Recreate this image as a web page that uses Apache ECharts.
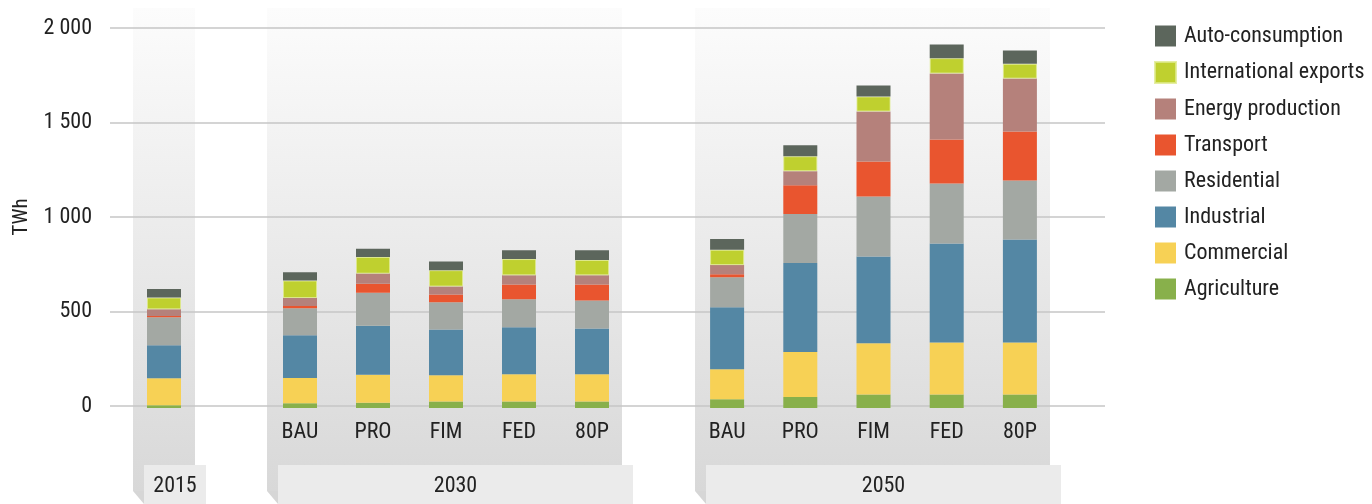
<!DOCTYPE html>
<html>
<head>
<meta charset="utf-8">
<script src="https://cdn.jsdelivr.net/npm/echarts@6/dist/echarts.min.js"></script>
<style>
  body { margin: 0; background: #fff; }
  #chart { width: 1372px; height: 504px; }
</style>
</head>
<body>
<div id="chart"></div>
<script>
  // data: 2015, 2030 (5 scenarios), 2050 (5 scenarios)
  const groups = ['2015', '2030', '2050'];
  const scenarios = ['BAU', 'PRO', 'FIM', 'FED', '80P'];
  const sectors = ['Agriculture', 'Commercial', 'Industrial', 'Residential', 'Transport',
    'Energy production', 'International exports', 'Auto-consumption'];
  const colors = ['#88b04b', '#f7d155', '#5487a4', '#a3a8a3', '#e9552f', '#b5817b', '#bfd02f', '#5c665c'];

  const agriculture     = [14, 25, 28, 35, 35, 35, 46, 58, 72, 72, 72];
  const commercial      = [143, 134, 148, 138, 143, 143, 159, 238, 270, 275, 275];
  const industrial      = [175, 226, 259, 243, 249, 243, 328, 471, 460, 524, 545];
  const residential     = [148, 143, 175, 143, 148, 148, 159, 259, 317, 317, 312];
  const transport       = [7, 12, 48, 42, 79, 85, 16, 153, 185, 233, 259];
  const energy          = [35, 42, 53, 42, 48, 48, 48, 74, 265, 349, 280];
  const intlExports     = [62, 92, 88, 86, 86, 81, 81, 79, 79, 81, 78];
  const autoConsumption = [45, 44, 44, 46, 46, 51, 57, 58, 58, 72, 70];
  const values = [agriculture, commercial, industrial, residential, transport, energy, intlExports, autoConsumption];

  const FONT = '"Roboto Condensed", "Liberation Sans", sans-serif';
  const TXT = '#222';

  // layout
  const plotTop = 28, plotH = 378;
  const barGrids = [
    { left: 127.5, width: 73, from: 0, to: 1, cats: [groups[0]], showLabels: false },
    { left: 263.5, width: 365, from: 1, to: 6, cats: scenarios, showLabels: true },
    { left: 690.5, width: 366, from: 6, to: 11, cats: scenarios, showLabels: true }
  ];
  const columns = [
    { L: 133, R: 195, label: groups[0] },
    { L: 267, R: 622, label: groups[1] },
    { L: 695, R: 1050, label: groups[2] }
  ];

  const grid = [{ left: 110, top: plotTop, width: 995, height: plotH }];
  const xAxis = [{ gridIndex: 0, type: 'category', data: [''], show: false }];
  const yAxis = [{
    gridIndex: 0, type: 'value', min: 0, max: 2000, interval: 500,
    name: 'TWh', nameLocation: 'middle', nameGap: 76, nameRotate: 90,
    nameTextStyle: { fontFamily: FONT, fontSize: 21, color: TXT },
    axisLine: { show: false }, axisTick: { show: false },
    axisLabel: {
      margin: 18, fontFamily: FONT, fontSize: 22, color: TXT,
      formatter: v => String(v).replace(/\B(?=(\d{3})+(?!\d))/g, ' ')
    },
    splitLine: { lineStyle: { color: '#c6c6c6', width: 1.5 } }
  }];

  barGrids.forEach((g, i) => {
    grid.push({ left: g.left, width: g.width, top: plotTop + 2, height: plotH });
    xAxis.push({
      gridIndex: i + 1, type: 'category', data: g.cats,
      axisLine: { show: false }, axisTick: { show: false },
      axisLabel: { show: g.showLabels, margin: 13, fontFamily: FONT, fontSize: 22, color: TXT }
    });
    yAxis.push({ gridIndex: i + 1, type: 'value', min: 0, max: 2000, show: false, splitLine: { show: false } });
  });

  const series = [];
  sectors.forEach((name, s) => {
    barGrids.forEach((g, i) => {
      series.push({
        name: name, type: 'bar', stack: 'g' + i,
        xAxisIndex: i + 1, yAxisIndex: i + 1,
        barWidth: 34,
        itemStyle: name === 'International exports'
          ? { color: colors[s], borderColor: 'rgba(222,234,140,0.8)', borderWidth: 1 }
          : { color: colors[s] },
        data: values[s].slice(g.from, g.to)
      });
    });
  });

  const graphics = [];
  columns.forEach(c => {
    graphics.push({
      type: 'rect', z: -10,
      shape: { x: c.L, y: 8, width: c.R - c.L, height: 483 },
      style: {
        fill: new echarts.graphic.LinearGradient(0, 0, 0, 1, [
          { offset: 0, color: '#fcfcfc' },
          { offset: 1, color: '#d8d8d8' }
        ])
      }
    });
    graphics.push({
      type: 'polygon', z: -10,
      shape: { points: [[c.L, 491], [c.L + 11, 491], [c.L + 11, 504]] },
      style: { fill: '#d6d6d6' }
    });
    graphics.push({
      type: 'rect', z: -9,
      shape: { x: c.L + 11, y: 465, width: c.R - c.L, height: 39 },
      style: { fill: '#ebebeb' }
    });
    graphics.push({
      type: 'text', z: -8,
      x: c.L + 11 + (c.R - c.L) / 2, y: 486,
      style: { text: c.label, fontFamily: FONT, fontSize: 22, fill: TXT, align: 'center', verticalAlign: 'middle' }
    });
  });

  const chart = echarts.init(document.getElementById('chart'));
  chart.setOption({
    backgroundColor: '#fff',
    animation: false,
    grid: grid,
    xAxis: xAxis,
    yAxis: yAxis,
    legend: {
      orient: 'vertical', left: 1149, top: 20,
      icon: 'rect', itemWidth: 21, itemHeight: 21, itemGap: 14,
      data: sectors.slice().reverse(),
      textStyle: { fontFamily: FONT, fontSize: 22, color: TXT, padding: [0, 0, 0, 3] }
    },
    graphic: { elements: graphics },
    series: series
  });
</script>
</body>
</html>
